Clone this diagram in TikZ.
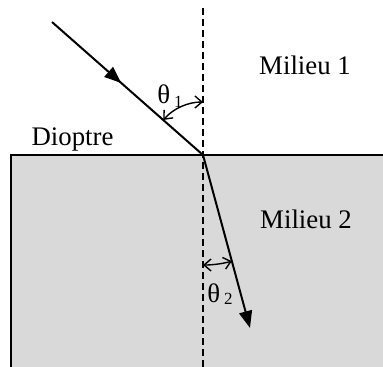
\documentclass[tikz,border=0pt]{standalone}
\usepackage{fontspec}
\setmainfont{Liberation Serif}
\usetikzlibrary{arrows.meta,decorations.markings,calc}
\definecolor{milieu}{HTML}{D9D9D9}
\tikzset{
  ray/.style={line width=1pt},
  normal/.style={line width=0.8pt, dash pattern=on 3.5pt off 2pt},
  anglearc/.style={line width=0.7pt, {Straight Barb[length=3.5pt,width=6pt]}-{Straight Barb[length=3.5pt,width=6pt]}},
  lbl/.style={inner sep=0pt, font=\fontsize{13.4}{15}\selectfont}
}
\begin{document}
\begin{tikzpicture}[x=0.5pt,y=0.5pt]
\useasboundingbox (0,0) rectangle (383,366);
\clip (0,0) rectangle (383,366);
% medium 2
\fill[milieu] (11,-10) rectangle (395,211);
\draw[ray] (11,-10) -- (11,211) -- (395,211);
% points
\coordinate (O) at (203,211);
\coordinate (S) at (52,344);
\coordinate (R) at (250,38);
\coordinate (Ntop) at (203,358);
\coordinate (Nbot) at (203,-10);
% normal
\draw[normal] (Ntop) -- (Nbot);
% incident ray
\draw[ray, postaction={decorate}, decoration={markings, mark=at position 0.46 with {\arrow{Triangle[length=8.5pt,width=6.5pt]}}}] (S) -- (O);
% refracted ray
\draw[ray, -{Triangle[length=8.5pt,width=6.5pt]}] (O) -- (R);
% angle arcs
\draw[anglearc] ($(O)+(138.6:53)$) arc[start angle=138.6, end angle=90, radius=53];
\draw[anglearc] ($(O)+(270:110)$) arc[start angle=270, end angle=285.2, radius=110];
% labels
\node[lbl, anchor=center] (m1) at (305,301) {Milieu 1};
\node[lbl, anchor=center] (m2) at (306,147) {Milieu 2};
\node[lbl, anchor=base] (d) at (72.5,221) {Dioptre};
\node[lbl, anchor=base west] (t1) at (157,263) {θ\hspace{2pt}\raisebox{-2pt}{\fontsize{8.5}{9}\selectfont 1}};
\node[lbl, anchor=base west] (t2) at (207,64) {θ\hspace{2pt}\raisebox{-1pt}{\fontsize{8.5}{9}\selectfont 2}};
\end{tikzpicture}
\end{document}
